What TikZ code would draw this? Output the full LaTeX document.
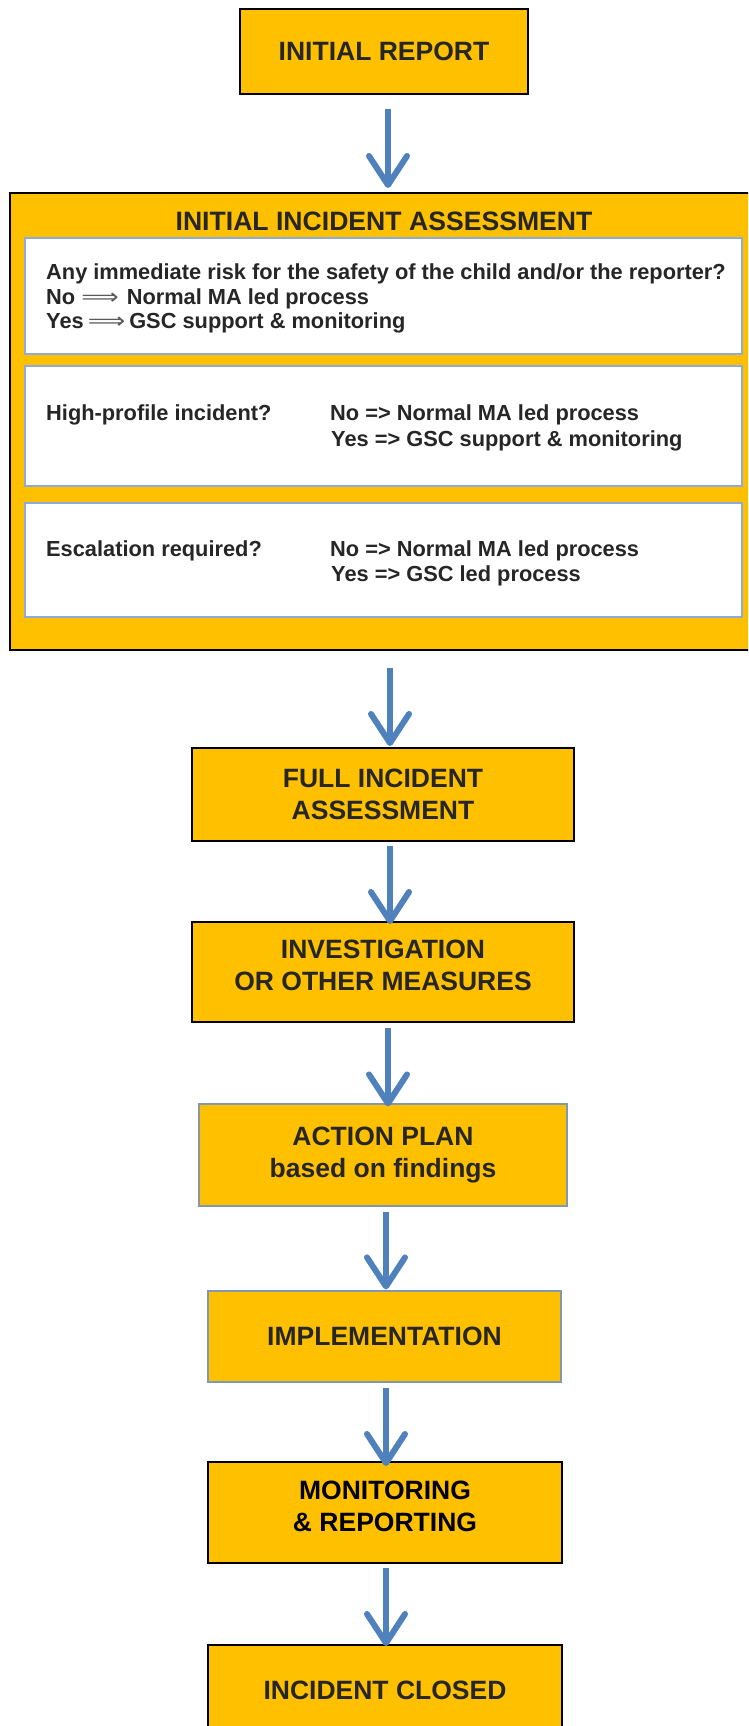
\documentclass[tikz,border=0pt]{standalone}
\usepackage{fontspec}
\setmainfont{Liberation Sans}
\newfontfamily\symfont{DejaVu Sans}
\usetikzlibrary{arrows.meta,calc}
\definecolor{gold}{HTML}{FFC000}
\definecolor{ink}{HTML}{262626}
\definecolor{flowblue}{HTML}{4F81BD}
\definecolor{frameblue}{HTML}{8EAADB}
\definecolor{slate}{HTML}{8497B0}
\definecolor{dgray}{HTML}{595959}
\newcommand{\dblarrow}{{\color{dgray}\symfont\mdseries\scalebox{1.2}[1]{⟹}}}
\begin{document}
\begin{tikzpicture}[x=1pt,y=-1pt,
  stage/.style={draw=black, line width=2pt, fill=gold, text=ink,
    font=\bfseries\fontsize{26.5}{32}\selectfont, align=center, inner sep=0pt},
  stagelite/.style={stage, draw=slate, line width=1.2pt},
  panel/.style={draw=frameblue, line width=1.3pt, fill=white, inner sep=0pt},
  qtext/.style={anchor=base west, text=ink, font=\bfseries\fontsize{21.8}{25}\selectfont, inner sep=0pt},
  flow/.style={draw=flowblue, line width=6pt, -{Straight Barb[length=29pt,width=38pt,round]}}
]
\clip (0,0) rectangle (748,1726);
\fill[white] (0,0) rectangle (748,1726);

% stages
\node[stage, minimum width=288pt, minimum height=85pt] (report) at (384,51.5) {INITIAL REPORT};

\node[draw=black, line width=2pt, fill=gold, minimum width=750pt, minimum height=457pt, inner sep=0pt] (assess) at (385,421.5) {};
\node[anchor=base, text=ink, font=\bfseries\fontsize{26.6}{32}\selectfont, inner sep=0pt] (assesstitle) at (384,230) {INITIAL INCIDENT ASSESSMENT};

\node[panel, minimum width=717pt, minimum height=116pt] (panelA) at (383.5,296) {};
\node[panel, minimum width=717pt, minimum height=120pt] (panelB) at (383.5,426) {};
\node[panel, minimum width=717pt, minimum height=114pt] (panelC) at (383.5,560) {};

\node[qtext] (qa1) at (46,279.5) {Any immediate risk for the safety of the child and/or the reporter?};
\node[qtext] (qa2) at (46,304.5) {No\hspace{6pt}\dblarrow\hspace{8pt}Normal MA led process};
\node[qtext] (qa3) at (46,328.5) {Yes\hspace{4pt}\dblarrow\hspace{4pt}GSC support \& monitoring};

\node[qtext] (qb1) at (46,420.5) {High-profile incident?};
\node[qtext] (qb2) at (330,420.5) {No => Normal MA led process};
\node[qtext] (qb3) at (331,446.5) {Yes => GSC support \& monitoring};

\node[qtext] (qc1) at (46,556.5) {Escalation required?};
\node[qtext] (qc2) at (330,556.5) {No => Normal MA led process};
\node[qtext] (qc3) at (331,581.5) {Yes => GSC led process};

\node[stage, minimum width=382pt, minimum height=93pt] (full) at (383,794.5) {FULL INCIDENT\\ASSESSMENT};
\node[stage, minimum width=382pt, minimum height=100pt] (invest) at (383,972) {INVESTIGATION\\OR OTHER MEASURES\\[-19pt]\mbox{}};
\node[stagelite, minimum width=368pt, minimum height=102pt] (action) at (383,1155) {ACTION PLAN\\based on findings};
\node[stagelite, minimum width=353pt, minimum height=91pt] (impl) at (384.5,1336.5) {IMPLEMENTATION};
\node[stage, minimum width=354pt, minimum height=101pt, text=black] (monitor) at (385,1512.5) {MONITORING\\\& REPORTING\\[-20pt]\mbox{}};
\node[stage, minimum width=354pt, minimum height=90pt] (closed) at (385,1690) {INCIDENT CLOSED};

% connectors
\draw[flow] ($(report.south)+(4,14)$) -- ($(assess.north)+(3,-4)$);
\draw[flow] ($(assess.south)+(5,17)$) -- ($(full.north)+(7,-1)$);
\draw[flow] ($(full.south)+(7,4)$) -- ($(invest.north)+(7,3)$);
\draw[flow] ($(invest.south)+(5,5)$) -- ($(action.north)+(5,3)$);
\draw[flow] ($(action.south)+(3,5)$) -- ($(impl.north)+(1.5,-1)$);
\draw[flow] ($(impl.south)+(1.5,5)$) -- ($(monitor.north)+(1,5)$);
\draw[flow] ($(monitor.south)+(1,4)$) -- ($(closed.north)+(1,2)$);
\end{tikzpicture}
\end{document}
